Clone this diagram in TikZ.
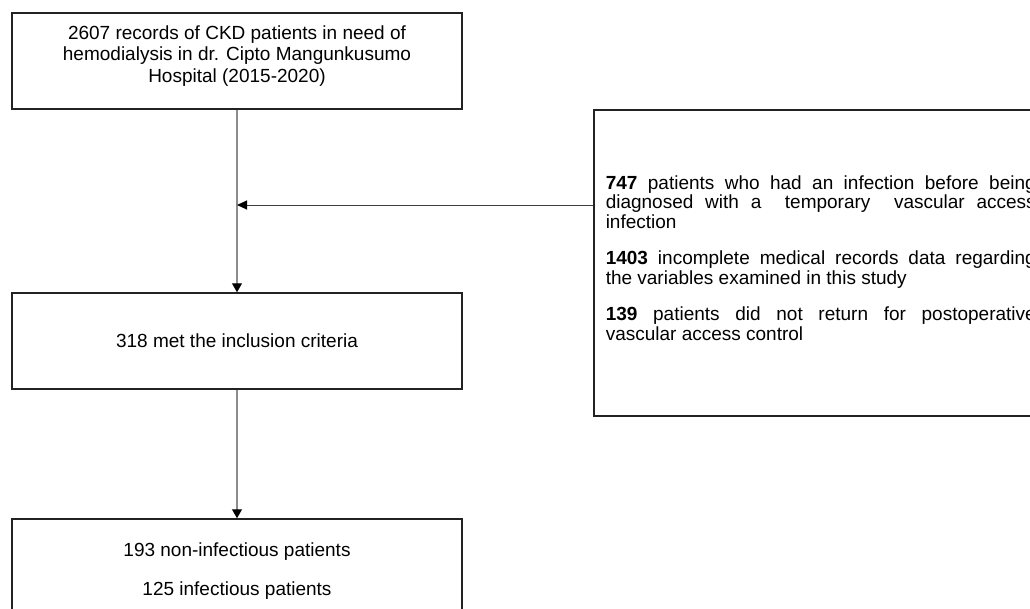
\documentclass[tikz,border=0pt]{standalone}
\usepackage{fontspec}
\setmainfont{Liberation Sans}
\usepackage{tikz}
\usetikzlibrary{arrows.meta}
\usetikzlibrary{calc}

\definecolor{boxline}{RGB}{34,34,34}
\definecolor{linegray}{RGB}{140,140,140}
\tikzset{
	flowbox/.style={draw=boxline, line width=1.5pt, minimum width=450pt, minimum height=96pt, align=center, inner sep=0pt, font=\fontsize{19}{21.5}\selectfont},
	exclbox/.style={draw=boxline, line width=1.5pt, minimum height=306pt, text width=430pt, inner xsep=12pt, inner ysep=0pt, align=justify, anchor=north west, font=\fontsize{19}{19.5}\selectfont},
	flowline/.style={-{Triangle[length=9pt,width=10pt,color=black]}, draw=linegray, line width=1.3pt},
	sideline/.style={-{Triangle[length=10pt,width=9pt,color=black]}, draw=black!75, line width=1pt}
}

\begin{document}
\begin{tikzpicture}[x=1pt, y=-1pt]
\useasboundingbox (0,0) rectangle (1030,608);
\clip (0,0) rectangle (1030,608);
\node[flowbox, text depth=14pt] (records) at (237,61) {2607 records of CKD patients in need of\\hemodialysis in dr. Cipto Mangunkusumo\\Hospital (2015-2020)};
\node[flowbox] (included) at (237,341) {318 met the inclusion criteria};
\node[flowbox, minimum height=104pt] (outcome) at (237,571) {193 non-infectious patients\\[17pt]125 infectious patients};
\node[exclbox, text height=4pt] (excluded) at (593,109) {\hyphenpenalty=10000 \setlength{\parskip}{17pt}%
\textbf{747} patients who had an infection before being\linebreak diagnosed with a \ temporary \ vascular access\linebreak infection\par
\textbf{1403} incomplete medical records data regarding\linebreak the variables examined in this study\par
\textbf{139} patients did not return for postoperative\linebreak vascular access control};
\coordinate (join) at (237,205);
% main flow
\draw[flowline] (records) -- (included);
\draw[flowline] (included) -- (outcome);
% exclusions
\draw[sideline] (excluded.west |- join) -- (join);
\end{tikzpicture}
\end{document}
